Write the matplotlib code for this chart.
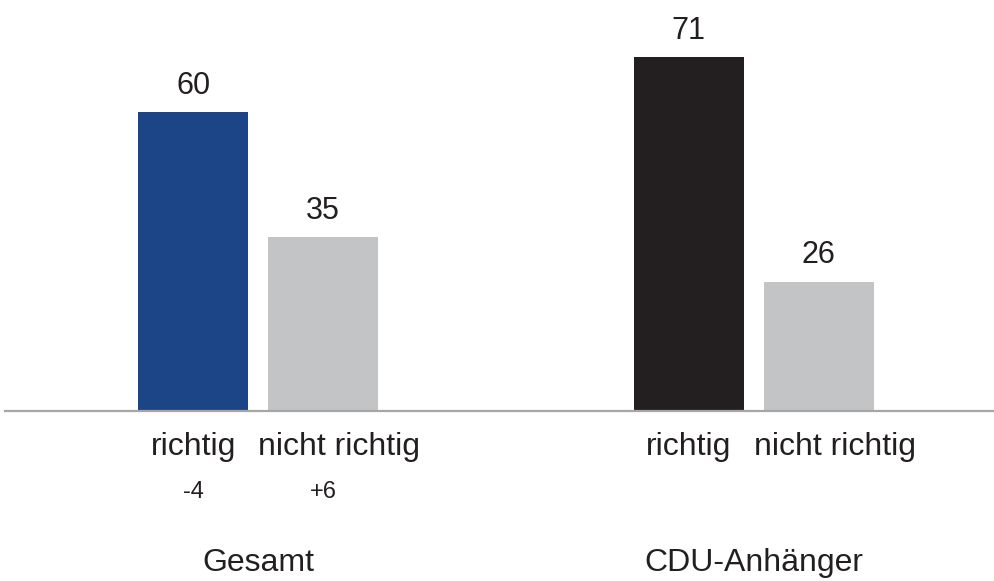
import matplotlib
matplotlib.use("Agg")
import matplotlib.pyplot as plt
import matplotlib.transforms as mtransforms

plt.rcParams['font.family'] = ['Liberation Sans', 'DejaVu Sans']

groups = ["Gesamt", "CDU-Anhänger"]
categories = ["richtig", "nicht richtig"]
values = {
    "Gesamt": [60, 35],
    "CDU-Anhänger": [71, 26],
}
changes = {
    "Gesamt": ["-4", "+6"],
    "CDU-Anhänger": [None, None],
}
colors = {
    "Gesamt": ["#1B4586", "#C3C4C6"],
    "CDU-Anhänger": ["#231F20", "#C3C4C6"],
}

W, H = 995, 581
fig = plt.figure(figsize=(W / 100, H / 100), dpi=100)
base_px = 411
ymax = 80
px_per_unit = 4.98
top_px = base_px - ymax * px_per_unit
ax = fig.add_axes([5 / W, (H - base_px) / H, 990 / W, (base_px - top_px) / H])
ax.set_ylim(0, ymax)
ax.set_xlim(-0.5106, 1.487)
for s in ["top", "right", "left"]:
    ax.spines[s].set_visible(False)
ax.spines["bottom"].set_color("#A6A6A6")
ax.spines["bottom"].set_linewidth(1.6)
ax.set_xticks([])
ax.set_yticks([])

offset = 0.131
width = 0.222
label_shift = [0.0, 0.033]
trans = mtransforms.blended_transform_factory(ax.transData, fig.transFigure)
txt = "#231F20"

for gi, g in enumerate(groups):
    for ci, cat in enumerate(categories):
        x = gi + (ci * 2 - 1) * offset
        v = values[g][ci]
        ax.bar(x, v, width=width, color=colors[g][ci], zorder=2)
        ax.annotate(str(v), (x, v), xytext=(0, 8), textcoords="offset points",
                    ha="center", va="bottom", fontsize=22, color=txt)
        ax.text(x + label_shift[ci], 1 - 447 / H, cat, transform=trans,
                ha="center", va="center", fontsize=23, color=txt)
        ch = changes[g][ci]
        if ch:
            ax.text(x, 1 - 492 / H, ch, transform=trans,
                    ha="center", va="center", fontsize=17, color=txt)
    ax.text(gi, 1 - 563 / H, g, transform=trans, ha="center", va="center",
            fontsize=23, color=txt)

fig.savefig("out.png", dpi=100)
